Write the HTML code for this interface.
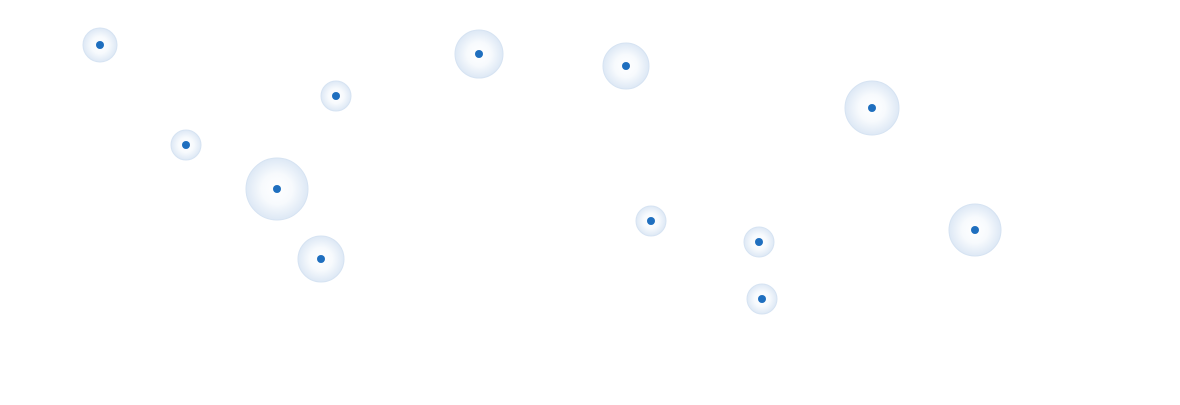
<!DOCTYPE html><html><head><style>body{margin:0;background:#fff}</style></head><body>
<svg width="1180" height="400" xmlns="http://www.w3.org/2000/svg">
<defs><radialGradient id="g"><stop offset="0" stop-color="#fff"/><stop offset="0.5" stop-color="#f7fafd"/><stop offset="1" stop-color="#dde8f5"/></radialGradient></defs>
<g fill="url(#g)" stroke="#d6e3f2" stroke-width="1">
<circle cx="100" cy="45" r="17"/><circle cx="336" cy="96" r="15"/><circle cx="186" cy="145" r="15"/>
<circle cx="277" cy="189" r="31"/><circle cx="321" cy="259" r="23"/><circle cx="479" cy="54" r="24"/>
<circle cx="626" cy="66" r="23"/><circle cx="872" cy="108" r="27"/><circle cx="651" cy="221" r="15"/>
<circle cx="759" cy="242" r="15"/><circle cx="762" cy="299" r="15"/><circle cx="975" cy="230" r="26"/>
</g>
<g fill="#1f6fbf">
<circle cx="100" cy="45" r="4"/><circle cx="336" cy="96" r="4"/><circle cx="186" cy="145" r="4"/>
<circle cx="277" cy="189" r="4"/><circle cx="321" cy="259" r="4"/><circle cx="479" cy="54" r="4"/>
<circle cx="626" cy="66" r="4"/><circle cx="872" cy="108" r="4"/><circle cx="651" cy="221" r="4"/>
<circle cx="759" cy="242" r="4"/><circle cx="762" cy="299" r="4"/><circle cx="975" cy="230" r="4"/>
</g></svg></body></html>
